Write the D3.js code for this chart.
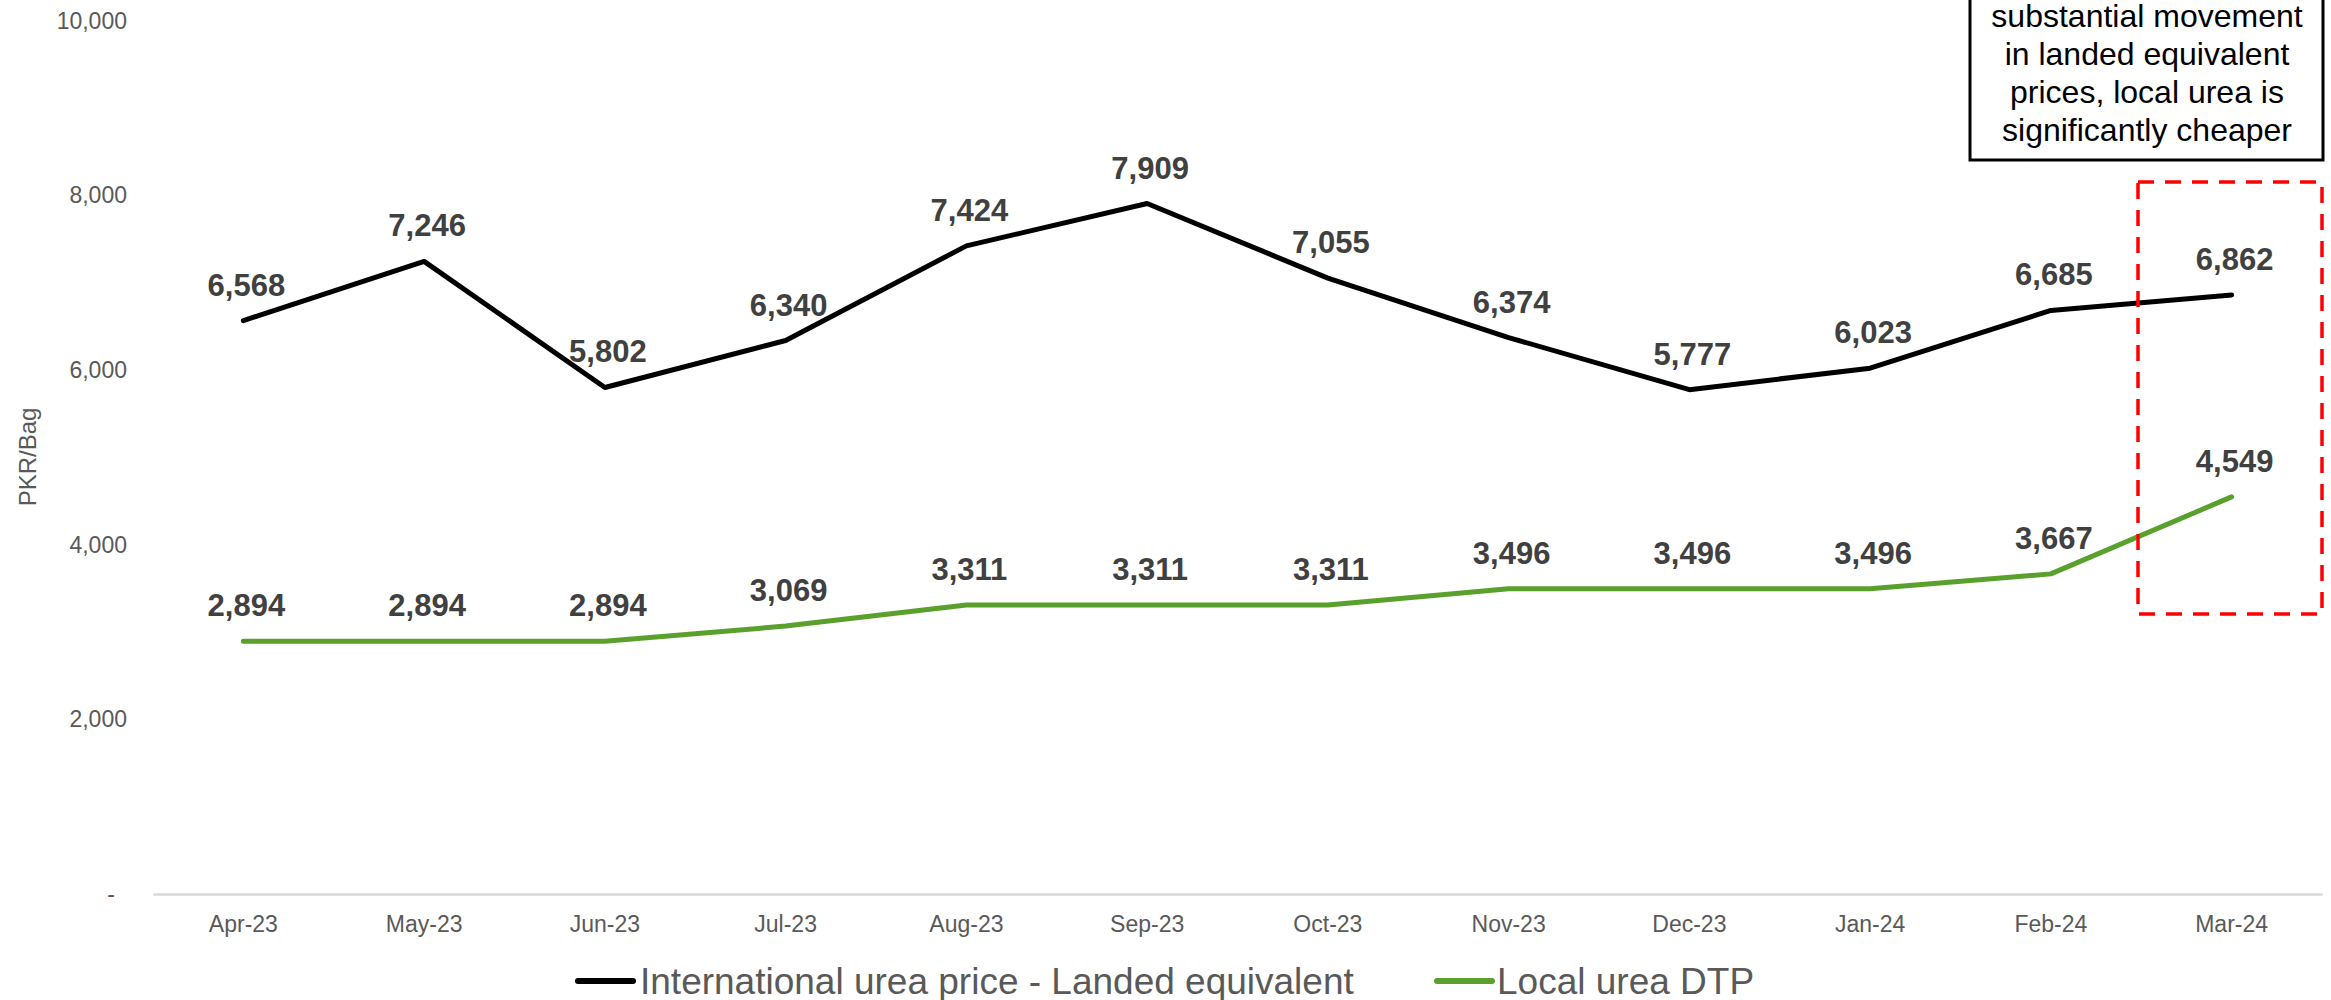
<!DOCTYPE html>
<html>
<head>
<meta charset="utf-8">
<script src="https://cdn.jsdelivr.net/npm/d3@7"></script>
<style>
  html, body { margin: 0; padding: 0; background: #fff; }
  svg { display: block; font-family: "Liberation Sans", Arial, sans-serif; }
</style>
</head>
<body>
<svg id="chart" width="2331" height="1000"></svg>
<script>
const categories = ["Apr-23","May-23","Jun-23","Jul-23","Aug-23","Sep-23","Oct-23","Nov-23","Dec-23","Jan-24","Feb-24","Mar-24"];
const internationalLanded = [6568, 7246, 5802, 6340, 7424, 7909, 7055, 6374, 5777, 6023, 6685, 6862];
const localDTP = [2894, 2894, 2894, 3069, 3311, 3311, 3311, 3496, 3496, 3496, 3667, 4549];
const yTicks = [0, 2000, 4000, 6000, 8000, 10000];
const seriesNames = ["International urea price - Landed equivalent", "Local urea DTP"];
const annotationLines = ["substantial movement", "in landed equivalent", "prices, local urea is", "significantly cheaper"];

const svg = d3.select("#chart");
const x = d3.scaleBand().domain(categories).range([153, 2322]);
const y = d3.scaleLinear().domain([0, 10000]).range([894, 21]);
const fmt = d3.format(",");

// x axis
const xAxis = svg.append("g").attr("transform", "translate(0,894)")
  .call(d3.axisBottom(x).tickSize(0).tickPadding(0));
xAxis.select(".domain").attr("stroke", "#d9d9d9").attr("stroke-width", 2.5);
xAxis.selectAll("text").attr("font-size", 23).attr("fill", "#595959")
  .attr("font-family", "Liberation Sans, Arial, sans-serif")
  .attr("dy", null).attr("y", 38);

// y axis
const yAxis = svg.append("g").attr("transform", "translate(127,0)")
  .call(d3.axisLeft(y).tickValues(yTicks).tickSize(0).tickPadding(0)
    .tickFormat(d => d === 0 ? "-" : fmt(d)));
yAxis.select(".domain").remove();
yAxis.selectAll("text").attr("font-size", 23).attr("fill", "#595959")
  .attr("font-family", "Liberation Sans, Arial, sans-serif")
  .attr("x", d => d === 0 ? -12 : 0);

// y axis title
svg.append("text")
  .attr("transform", "translate(36,457) rotate(-90)")
  .attr("text-anchor", "middle")
  .attr("font-size", 24).attr("fill", "#595959")
  .text("PKR/Bag");

const cx = c => x(c) + x.bandwidth() / 2;
const line = d3.line().x(d => cx(d.c)).y(d => y(d.v));

const series = [
  { name: seriesNames[0], values: internationalLanded, color: "#000000" },
  { name: seriesNames[1], values: localDTP, color: "#5aa02c" }
];

series.forEach(s => {
  const pts = categories.map((c, i) => ({ c, v: s.values[i] }));
  svg.append("path").datum(pts)
    .attr("fill", "none").attr("stroke", s.color).attr("stroke-width", 5)
    .attr("stroke-linejoin", "round").attr("stroke-linecap", "round")
    .attr("d", line);
  svg.append("g").selectAll("text").data(pts).join("text")
    .attr("x", d => cx(d.c) + 3)
    .attr("y", d => y(d.v) - 25)
    .attr("text-anchor", "middle")
    .attr("font-size", 31).attr("font-weight", "bold").attr("fill", "#404040")
    .text(d => fmt(d.v));
});

// red dashed highlight box
svg.append("rect")
  .attr("x", 2138).attr("y", 182).attr("width", 184).attr("height", 432)
  .attr("fill", "none").attr("stroke", "#ff0000").attr("stroke-width", 3.5)
  .attr("stroke-dasharray", "16,11");

// annotation box
svg.append("rect")
  .attr("x", 1970).attr("y", -20).attr("width", 353).attr("height", 180)
  .attr("fill", "#fff").attr("stroke", "#000").attr("stroke-width", 3);
svg.append("g").selectAll("text").data(annotationLines).join("text")
  .attr("x", 2147).attr("y", (d, i) => 27 + i * 38)
  .attr("text-anchor", "middle").attr("font-size", 32).attr("fill", "#000")
  .text(d => d);

// legend
const legend = [
  { name: seriesNames[0], color: "#000000", x1: 578, x2: 633, tx: 640 },
  { name: seriesNames[1], color: "#5aa02c", x1: 1437, x2: 1492, tx: 1497 }
];
legend.forEach(l => {
  svg.append("line").attr("x1", l.x1).attr("x2", l.x2).attr("y1", 981).attr("y2", 981)
    .attr("stroke", l.color).attr("stroke-width", 6).attr("stroke-linecap", "round");
  svg.append("text").attr("x", l.tx).attr("y", 994)
    .attr("font-size", 37).attr("fill", "#595959").text(l.name);
});
</script>
</body>
</html>
